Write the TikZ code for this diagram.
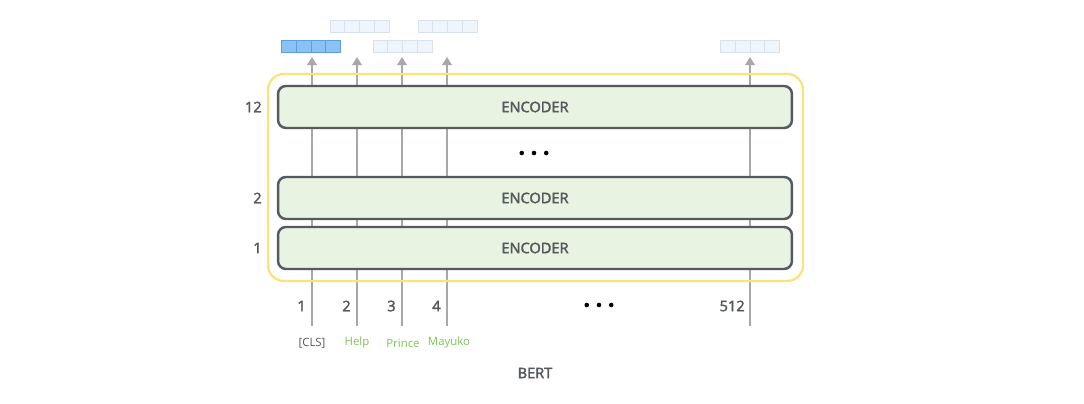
\documentclass[tikz,border=0pt]{standalone}
\usepackage{fontspec}
\setmainfont{Open Sans}
\newfontfamily\semib{Open Sans}[FakeBold=2.4]
\usetikzlibrary{arrows.meta,positioning}
\definecolor{frameyel}{HTML}{FCE27C}
\definecolor{encfill}{HTML}{E8F3E1}
\definecolor{encline}{HTML}{545A60}
\definecolor{colgray}{HTML}{A8A8A8}
\definecolor{txtgray}{HTML}{555A5E}
\definecolor{tokgreen}{HTML}{7CC35B}
\definecolor{bluefill}{HTML}{8AC2F6}
\definecolor{blueline}{HTML}{5F9FD8}
\definecolor{palefill}{HTML}{EFF5FD}
\definecolor{paleline}{HTML}{D9E2EC}
\tikzset{enc/.style={draw=encline,fill=encfill,rounded corners=4.5pt,line width=1.4pt,
    minimum width=10.28cm,minimum height=0.84cm,text=txtgray,font=\semib\fontsize{8.3}{9}\selectfont},
  lbl/.style={text=txtgray,font=\semib\fontsize{8.3}{9}\selectfont,inner sep=0pt},
  tok/.style={text=tokgreen,font=\fontsize{6.5}{7}\selectfont,inner sep=0pt},
  cell/.style={draw=#1line,fill=#1fill,line width=0.5pt,minimum width=0.295cm,minimum height=0.24cm,inner sep=0pt,anchor=west},
  col/.style={draw=colgray,line width=1.3pt,-{Triangle[length=4.6pt,width=5.4pt]}},
  dot/.style={circle,fill=black,inner sep=0pt,minimum size=2.6pt}}
\newcommand{\tokvec}[4]{% name, x, y, colour
  \coordinate (#1) at (#2,#3);
  \foreach \k in {0,...,3}
    \node[cell=#4] at ([xshift=\k*0.295cm-0.59cm]#1) {};
}
\newcommand{\threedots}[3]{% name, x, y
  \coordinate (#1) at (#2,#3);
  \foreach \k in {-1,0,1}
    \node[dot] at ([xshift=\k*0.245cm]#1) {};
}
\begin{document}
\begin{tikzpicture}[x=0.02cm,y=-0.02cm]
\useasboundingbox (0,0) rectangle (1084,404);
% input columns
\coordinate (c1) at (312,326); \coordinate (c2) at (357,326); \coordinate (c3) at (402,326);
\coordinate (c4) at (447,326); \coordinate (c512) at (750,326);
\coordinate (h1) at (312,57); \coordinate (h2) at (357,57); \coordinate (h3) at (402,57);
\coordinate (h4) at (447,57); \coordinate (h512) at (750,57);
\foreach \i in {1,2,3,4,512} \draw[col] (c\i) -- (h\i);
% outer frame
\draw[frameyel,line width=1.3pt,rounded corners=9pt] (268,74) rectangle (803,281);
% encoder stack
\node[enc] (e12) at (535,107) {ENCODER};
\node[enc] (e2) at (535,198) {ENCODER};
\node[enc] (e1) at (535,248) {ENCODER};
\threedots{vd}{534}{153}
\node[lbl,anchor=east] (l12) at (262,107) {12};
\node[lbl,anchor=east] (l2) at (262,198) {2};
\node[lbl,anchor=east] (l1) at (262,248) {1};
% positions and tokens
\node[lbl,anchor=east] (p1) at (306,306) {1};
\node[lbl,anchor=east] (p2) at (351,306) {2};
\node[lbl,anchor=east] (p3) at (396,306) {3};
\node[lbl,anchor=east] (p4) at (441,306) {4};
\node[lbl,anchor=east] (p512) at (745,306) {512};
\threedots{hd}{599}{305}
\node[tok,text=txtgray] (t1) at (312,343) {[CLS]};
\node[tok] (t2) at (357,343) {Help};
\node[tok] (t3) at (403,343) {Prince};
\node[tok] (t4) at (449,343) {Mayuko};
\node[lbl] (bert) at (535,373) {BERT};
% output vectors
\tokvec{o1}{310.5}{46}{blue}
\tokvec{o2}{359}{26}{pale}
\tokvec{o3}{402}{46}{pale}
\tokvec{o4}{447}{26}{pale}
\tokvec{o512}{749.5}{46}{pale}
\end{tikzpicture}
\end{document}
